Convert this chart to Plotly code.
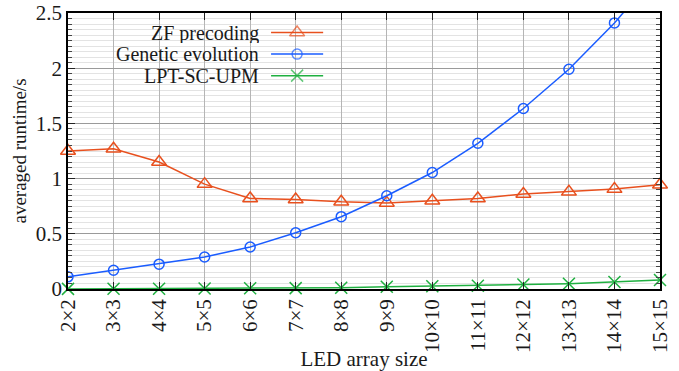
import plotly.graph_objects as go

categories = ["2×2", "3×3", "4×4", "5×5", "6×6", "7×7", "8×8", "9×9",
              "10×10", "11×11", "12×12", "13×13", "14×14", "15×15"]
zf_precoding = [1.25, 1.27, 1.15, 0.95, 0.82, 0.81, 0.79, 0.78,
                0.80, 0.82, 0.86, 0.88, 0.905, 0.945]
genetic_evolution = [0.11, 0.17, 0.225, 0.29, 0.38, 0.51, 0.655, 0.845,
                     1.055, 1.32, 1.635, 1.99, 2.41, 2.89]
lpt_sc_upm = [0.001, 0.002, 0.003, 0.004, 0.006, 0.008, 0.012, 0.02,
              0.025, 0.03, 0.04, 0.048, 0.064, 0.082]
series_names = ["ZF precoding", "Genetic evolution", "LPT-SC-UPM"]
y_ticks = [0, 0.5, 1, 1.5, 2, 2.5]

FONT = "Liberation Serif"
TXT = "#1a1a1a"
colors = ["#e8501e", "#1a5cff", "#1fb040"]
symbols = ["triangle-up-open", "circle-open", "x-thin-open"]
msizes = [13, 10, 12]
clips = [False, True, False]
x_idx = list(range(len(categories)))

fig = go.Figure()
for name, vals, c, s, ms, cl in zip(series_names,
                                    [zf_precoding, genetic_evolution, lpt_sc_upm],
                                    colors, symbols, msizes, clips):
    fig.add_trace(go.Scatter(
        x=x_idx, y=vals, name=name, mode="lines+markers",
        line=dict(color=c, width=1.5),
        marker=dict(symbol=s, size=ms, color=c, line=dict(width=1.5)),
        cliponaxis=cl, showlegend=False))

# custom legend (text right-aligned, sample on the right) like the reference
leg_y = [0.929, 0.851, 0.773]
fig.add_shape(type="rect", xref="paper", yref="paper", x0=0.0, x1=0.448,
              y0=0.735, y1=1.0, fillcolor="white", line=dict(width=0), layer="between")
for name, c, s, ms, ly in zip(series_names, colors, symbols, msizes, leg_y):
    fig.add_annotation(xref="paper", yref="paper", x=0.324, y=ly, text=name,
                       showarrow=False, xanchor="right", yanchor="middle",
                       height=20, borderpad=0,
                       font=dict(family=FONT, size=20, color=TXT))
    fig.add_trace(go.Scatter(
        x=[0.343, 0.387, 0.431], y=[ly, ly, ly], xaxis="x2", yaxis="y2",
        mode="lines+markers", line=dict(color=c, width=1.5),
        marker=dict(symbol=s, size=[0, ms, 0], color=c, line=dict(width=1.5)),
        showlegend=False, hoverinfo="skip"))

fig.update_layout(
    width=679, height=371,
    margin=dict(l=68, r=19, t=13, b=82),
    paper_bgcolor="white", plot_bgcolor="white",
    font=dict(family=FONT, size=21, color=TXT),
    showlegend=False,
    xaxis=dict(
        tickmode="array", tickvals=x_idx, ticktext=categories,
        range=[0, len(categories) - 1], tickangle=-90,
        showgrid=True, gridcolor="#b5b5b5", gridwidth=1,
        showline=True, linecolor="black", linewidth=1.5, mirror="ticks",
        ticks="inside", ticklen=7, tickcolor="#222", zeroline=False,
        automargin=False,
        title=dict(text="LED array size", font=dict(size=21), standoff=6),
        tickfont=dict(size=21),
    ),
    yaxis=dict(
        range=[0, 2.5], tickmode="array", tickvals=y_ticks,
        ticktext=[f"{v:g}" for v in y_ticks],
        showgrid=True, gridcolor="#9a9a9a", gridwidth=1.2,
        showline=True, linecolor="black", linewidth=1.5, mirror="ticks",
        ticks="inside", ticklen=7, tickcolor="#222", zeroline=False,
        automargin=False,
        minor=dict(dtick=0.05, showgrid=True, gridcolor="#e3e3e3", gridwidth=1,
                   ticks="inside", ticklen=4, tickcolor="#444"),
        title=dict(text="averaged runtime/s", font=dict(size=19), standoff=4),
        tickfont=dict(size=21),
    ),
    xaxis2=dict(overlaying="x", range=[0, 1], visible=False, fixedrange=True),
    yaxis2=dict(overlaying="y", range=[0, 1], visible=False, fixedrange=True),
)

fig.write_html("out.html")
